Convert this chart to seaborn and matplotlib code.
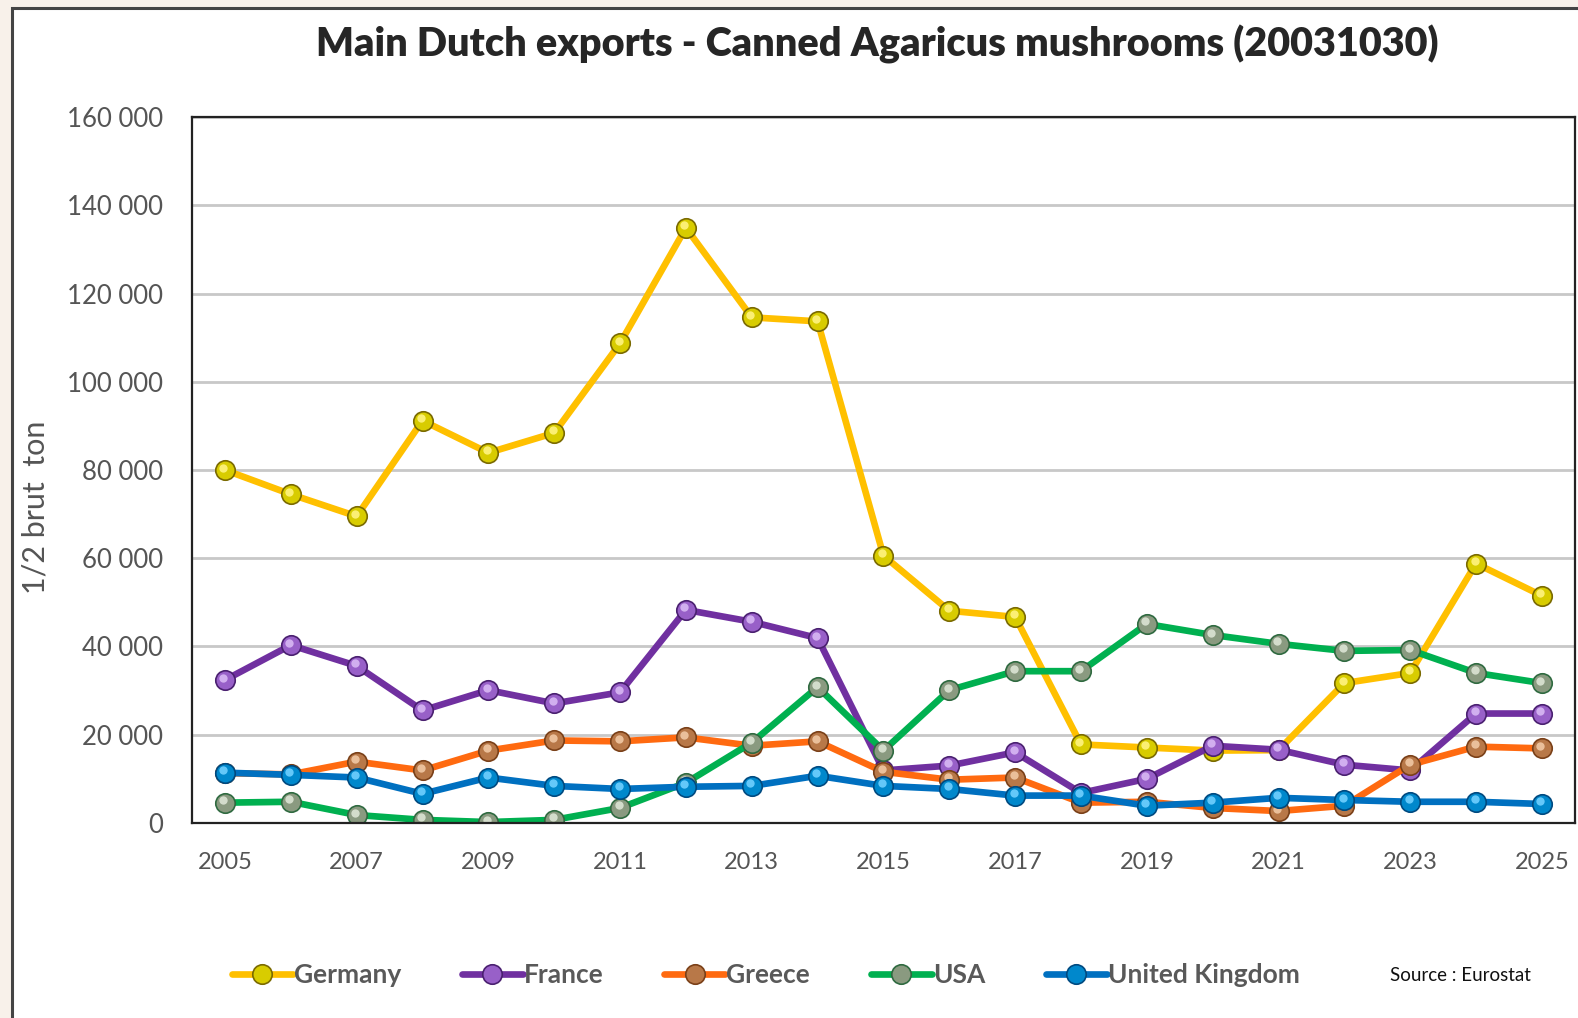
import matplotlib
matplotlib.use("Agg")
import matplotlib.pyplot as plt
from matplotlib.patches import Rectangle
from matplotlib.ticker import FuncFormatter
from matplotlib.transforms import ScaledTranslation
import seaborn as sns
import pandas as pd

sns.set_theme(style="white")
plt.rcParams["font.family"] = ["Lato", "DejaVu Sans"]

years = list(range(2005, 2026))
germany = [80000, 74500, 69500, 91200, 83900, 88400, 108700, 134900, 114600, 113700,
           60600, 48100, 46700, 17800, 17100, 16400, 16500, 31700, 34000, 58800, 51500]
france = [32400, 40300, 35600, 25500, 30100, 27100, 29600, 48300, 45600, 41900,
          11900, 13000, 16000, 6800, 10000, 17500, 16600, 13200, 11900, 24800, 24800]
greece = [11300, 11000, 13900, 11900, 16400, 18700, 18500, 19400, 17500, 18500,
          11600, 9800, 10300, 4600, 4800, 3400, 2700, 3900, 13200, 17300, 16900]
usa = [4600, 4800, 1800, 700, 200, 700, 3400, 9100, 18200, 30800,
       16400, 30100, 34400, 34400, 45100, 42600, 40600, 39000, 39200, 34000, 31700]
uk = [11400, 10900, 10300, 6600, 10300, 8400, 7700, 8200, 8400, 10700,
      8400, 7700, 6200, 6200, 3900, 4600, 5700, 5200, 4800, 4800, 4300]

countries = ["Germany", "France", "Greece", "USA", "United Kingdom"]
series = [germany, france, greece, usa, uk]
line_colors = ["#ffc000", "#7030a0", "#ff6a10", "#00b050", "#0070c0"]
face_colors = ["#d8cc00", "#9860c8", "#b87848", "#8a9a80", "#0088cc"]
shine_colors = ["#fff480", "#d8b8f4", "#f0c8a4", "#dce4d4", "#70d0ff"]
edge_colors = ["#7a6a00", "#4a2070", "#7a4018", "#2f6a40", "#004a80"]

df = pd.DataFrame({"year": years})
for name, vals in zip(countries, series):
    df[name] = vals

fig = plt.figure(figsize=(15.78, 10.18), dpi=100, facecolor="#f8f1ea")
frame = Rectangle((12 / 1578, -0.01), 1.0, 1 - 8 / 1018 + 0.01,
                  transform=fig.transFigure, facecolor="white",
                  edgecolor="#444444", linewidth=2.2, zorder=-5)
fig.add_artist(frame)
ax = fig.add_axes([0.1217, 0.1916, 0.8763, 0.6934])
ax.set_zorder(2)
ax.set_facecolor("white")

# small offset for the glossy highlight on each marker
shift = ScaledTranslation(-1.5 / 100, 2.5 / 100, fig.dpi_scale_trans)

for name, lc, fc, sc, ec in zip(countries, line_colors, face_colors, shine_colors, edge_colors):
    sns.lineplot(data=df, x="year", y=name, color=lc, linewidth=4.8, marker="o",
                 markersize=14, markerfacecolor=fc, markeredgecolor=ec,
                 markeredgewidth=1.2, label=name, ax=ax)
    hl = ax.plot(df["year"], df[name], linestyle="none", marker="o", markersize=6,
                 markerfacecolor=sc, markeredgewidth=0, alpha=0.9)[0]
    hl.set_transform(ax.transData + shift)

ax.set_xlim(2004.5, 2025.5)
ax.set_ylim(0, 160000)
ax.set_xticks(range(2005, 2026, 2))
ax.set_yticks(range(0, 160001, 20000))
ax.yaxis.set_major_formatter(FuncFormatter(lambda v, p: f"{int(v):,}".replace(",", " ")))
ax.grid(axis="y", color="#c8c8c8", linewidth=2)
ax.set_axisbelow(True)
for s in ax.spines.values():
    s.set_color("#222222")
    s.set_linewidth(1.6)
ax.tick_params(axis="x", labelsize=17, labelcolor="#555555", length=0, pad=21)
ax.tick_params(axis="y", labelsize=18.5, labelcolor="#555555", length=0, pad=21)
ax.set_xlabel("")
ax.set_ylabel("1/2 brut  ton", fontsize=22, color="#555555")
ax.yaxis.set_label_coords(-0.103, 0.447)

fig.suptitle("Main Dutch exports - Canned Agaricus mushrooms (20031030)",
             x=0.556, y=0.976, fontsize=28.5, fontweight="heavy", color="#262626")

handles, labels = ax.get_legend_handles_labels()
ax.get_legend().remove()
leg = fig.legend(handles, labels, loc="center left", bbox_to_anchor=(0.132, 0.042),
                 ncol=5, frameon=False, handlelength=2.3, handletextpad=0.05,
                 columnspacing=2.3, prop={"size": 19, "weight": "bold"})
for t in leg.get_texts():
    t.set_color("#595959")

fig.text(0.881, 0.036, "Source : Eurostat", fontsize=13.5, color="#111111")

fig.savefig("out.png", dpi=100, facecolor=fig.get_facecolor())
